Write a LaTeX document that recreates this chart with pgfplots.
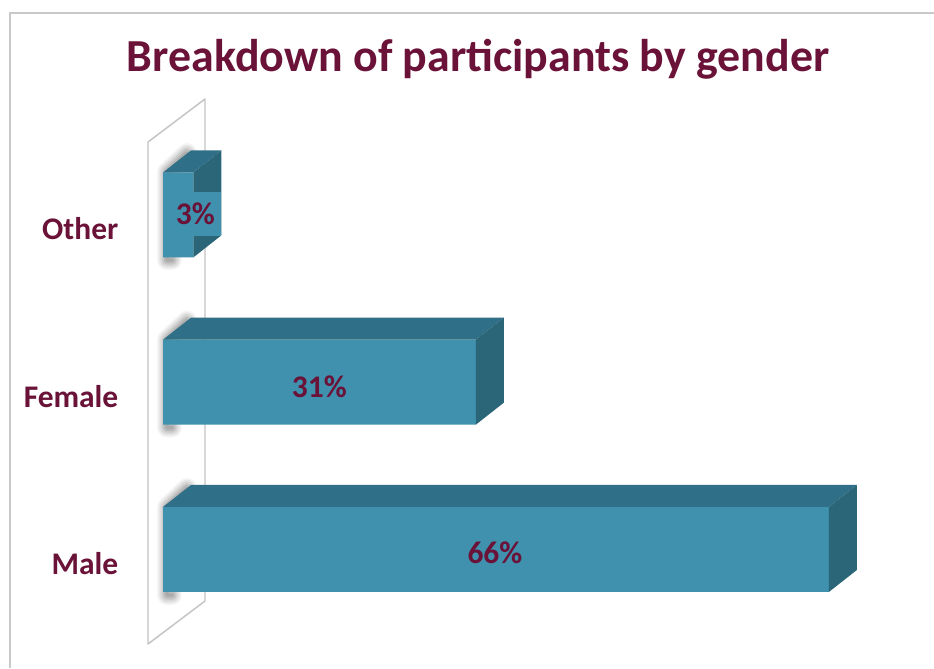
\documentclass[border=0pt]{standalone}
\usepackage{pgfplots}
\pgfplotsset{compat=1.18}
\usepackage{fontspec}
\setmainfont{Carlito}
\definecolor{wine}{HTML}{6A1238}
\definecolor{barfront}{HTML}{3F91AD}
\definecolor{bartop}{HTML}{2F6F87}
\definecolor{barside}{HTML}{2A6578}
\definecolor{framegray}{HTML}{C9C9C9}
\definecolor{wallgray}{HTML}{C4C4C4}
\begin{document}
\begin{tikzpicture}
\path[use as bounding box] (0,0) rectangle (700.5pt,501pt);
\begin{scope}[x=.75pt,y=-.75pt,yshift=501pt]
  \fill[white] (0,0) rectangle (934,668);
  \draw[framegray,line width=1.3pt] (10,668) -- (10,13) -- (934,13);
  % wall
  \draw[wallgray,line width=1.1pt,line join=round] (148,644) -- (148,142) -- (205,99) -- (205,601) -- cycle;
  % soft shadows behind the bars
  \foreach \t in {0,167.5,335}{
    \foreach \w/\o in {15/.04,12.5/.05,10/.06,7.5/.07,5/.08,2.5/.08}{
      \draw[black,opacity=\o,line width=\w pt,line cap=round,line join=round]
        (172,{595-\t}) -- (167,{595-\t}) -- (167,{507-\t}) -- (187,{488-\t});
    }
  }
\end{scope}
\begin{axis}[
  at={(122.25pt,26.2pt)},anchor=south west,
  scale only axis,width=522.15pt,height=376.3pt,
  xmin=0,xmax=69,ymin=-0.5,ymax=2.5,
  clip=false,
  axis line style={draw=none},
  tick style={draw=none},
  xtick=\empty,
  ytick={0,1,2},
  yticklabels={Male,Female,Other},
  y tick label style={font=\bfseries\fontsize{23.6}{28}\selectfont,text=wine,yshift=-10.5pt,xshift=-30pt},
  major tick length=0pt,
  title={Breakdown of participants by gender},
  title style={at={(axis description cs:0.4525,1.1024)},anchor=base,font=\bfseries\fontsize{34.4}{40}\selectfont,text=wine},
]
% front faces
\addplot[xbar,bar width=63.75pt,bar shift=0pt,fill=barfront,draw=none] coordinates {(66,0) (31,1) (3,2)};
% top faces
\addplot[fill=bartop,draw=none] coordinates {(0,0.2541) (66,0.2541) (68.775,0.3856) (2.775,0.3856)} -- cycle;
\addplot[fill=bartop,draw=none] coordinates {(0,1.2541) (31,1.2541) (33.775,1.3856) (2.775,1.3856)} -- cycle;
\addplot[fill=bartop,draw=none] coordinates {(0,2.2541) (3,2.2541) (5.775,2.3856) (2.775,2.3856)} -- cycle;
% side faces
\addplot[fill=barside,draw=none] coordinates {(66,-0.2541) (66,0.2541) (68.775,0.3856) (68.775,-0.1226)} -- cycle;
\addplot[fill=barside,draw=none] coordinates {(31,0.7459) (31,1.2541) (33.775,1.3856) (33.775,0.8774)} -- cycle;
\addplot[fill=barside,draw=none] coordinates {(3,1.7459) (3,2.2541) (5.775,2.3856) (5.775,1.8774)} -- cycle;
% value labels
\node[font=\bfseries\fontsize{23.6}{28}\selectfont,text=wine] at (axis cs:32.9,-0.02) {66\%};
\node[font=\bfseries\fontsize{23.6}{28}\selectfont,text=wine] at (axis cs:15.5,0.975) {31\%};
\node[font=\bfseries\fontsize{23.6}{28}\selectfont,text=wine,fill=barfront,minimum width=38pt,minimum height=33pt,inner sep=0pt] at (axis cs:3.2,2.005) {3\%};
\end{axis}
\end{tikzpicture}
\end{document}
